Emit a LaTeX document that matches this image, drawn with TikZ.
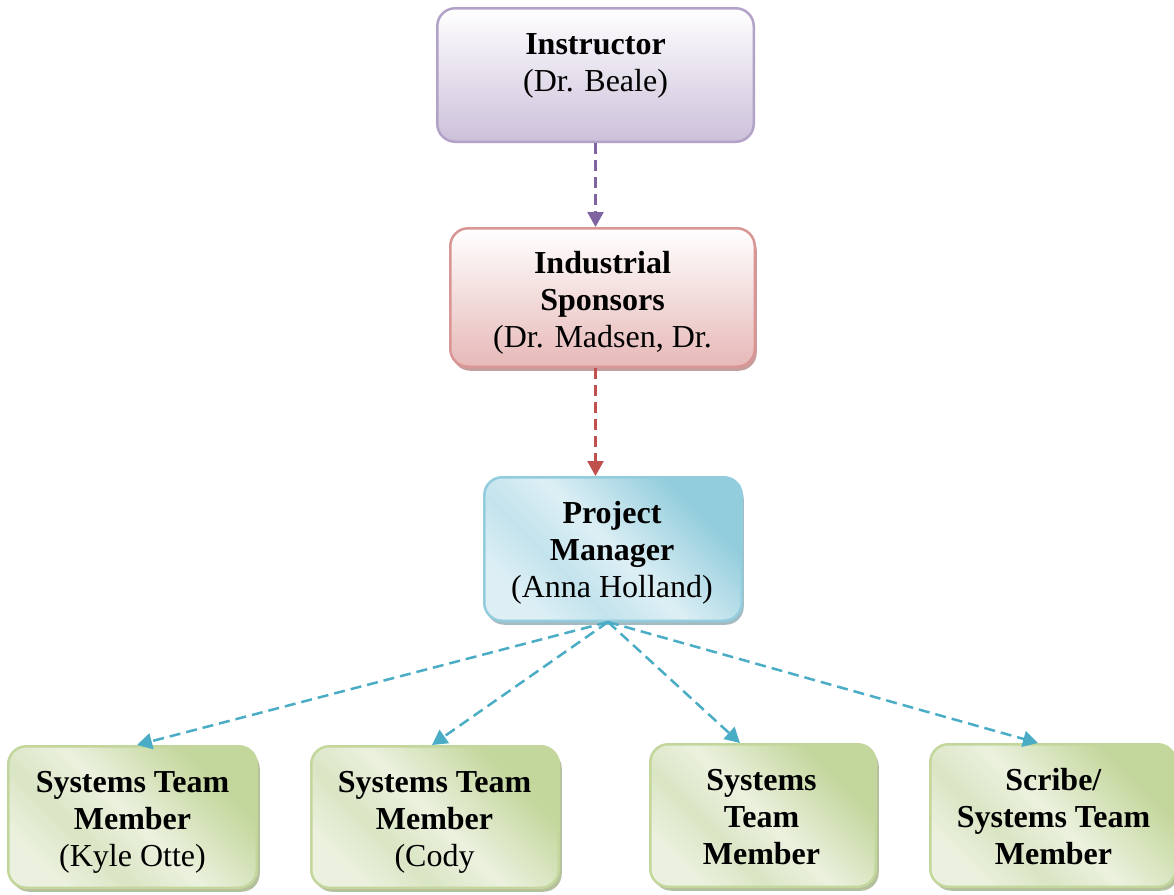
\documentclass[tikz,border=0pt]{standalone}
\usepackage{fontspec}
\setmainfont{Liberation Serif}
\usetikzlibrary{arrows.meta,shadows}
\definecolor{purpB}{HTML}{B3A2C7}
\definecolor{purpF}{HTML}{CCC0DA}
\definecolor{purpA}{HTML}{8064A2}
\definecolor{redB}{HTML}{D99694}
\definecolor{redF}{HTML}{E6B9B8}
\definecolor{redA}{HTML}{C0504D}
\definecolor{redS}{HTML}{B88584}
\definecolor{bluB}{HTML}{93CDDD}
\definecolor{bluL}{HTML}{DDEFF5}
\definecolor{bluD}{HTML}{92CDDC}
\definecolor{bluM}{HTML}{C3E3EC}
\definecolor{bluA}{HTML}{4BACC6}
\definecolor{bluS}{HTML}{8DAAB4}
\definecolor{grnB}{HTML}{C3D69B}
\definecolor{grnL}{HTML}{EBF1DE}
\definecolor{grnD}{HTML}{C3D69B}
\definecolor{grnM}{HTML}{DAE5C4}
\definecolor{grnS}{HTML}{A2B085}
\pgfdeclarehorizontalshading{greenfade}{100bp}{color(0bp)=(grnD); color(28bp)=(grnD); color(50bp)=(grnL); color(63bp)=(grnM); color(75bp)=(grnL); color(100bp)=(grnL)}
\pgfdeclarehorizontalshading{bluefade}{100bp}{color(0bp)=(bluD); color(28bp)=(bluD); color(50bp)=(bluL); color(63bp)=(bluM); color(75bp)=(bluL); color(100bp)=(bluL)}
\begin{document}
\begin{tikzpicture}[x=1pt,y=-1pt,
  box/.style={rectangle, rounded corners=18pt, line width=2.5pt, inner sep=0pt},
  purpbox/.style={box, draw=purpB, top color=white, bottom color=purpF},
  redbox/.style={box, draw=redB, top color=white, bottom color=redF,
    drop shadow={shadow xshift=2pt, shadow yshift=-4pt, fill=redS, opacity=0.8}},
  blubox/.style={box, draw=bluB, shade, shading=bluefade, shading angle=225,
    drop shadow={shadow xshift=2pt, shadow yshift=-4pt, fill=bluS, opacity=0.8}},
  grnbox/.style={box, draw=grnB, shade, shading=greenfade, shading angle=225,
    drop shadow={shadow xshift=3pt, shadow yshift=-4pt, fill=grnS, opacity=0.8}},
  lbl/.style={anchor=north, align=center, inner sep=0pt, font=\fontsize{32}{37}\selectfont},
  link/.style={line width=2.5pt, dash pattern=on 11pt off 6pt, -{Triangle[length=15pt,width=16pt]}}
]
\useasboundingbox (0,0) rectangle (1174,894);

% boxes
\node[purpbox, minimum width=316.5pt, minimum height=133.5pt] (inst) at (595.5,75) {};
\node[redbox, minimum width=304.5pt, minimum height=138.5pt] (spon) at (602.5,297.5) {};
\node[blubox, minimum width=257.5pt, minimum height=143.5pt] (pm) at (613,549) {};
\node[grnbox, minimum width=248.5pt, minimum height=141.5pt] (b1) at (132.5,817) {};
\node[grnbox, minimum width=247.5pt, minimum height=141.5pt] (b2) at (435,817) {};
\node[grnbox, minimum width=225.5pt, minimum height=142.5pt] (b3) at (763,815.5) {};
\node[grnbox, minimum width=245.5pt, minimum height=142.5pt] (b4) at (1053,815.5) {};

% texts
\node[lbl] (tinst) at (595.5,28) {\strut\textbf{Instructor}\\(Dr. Beale)};
\node[lbl] (tspon) at (602.5,247) {\strut\textbf{Industrial}\\\textbf{Sponsors}\\(Dr. Madsen, Dr.};
\node[lbl] (tpm) at (612,497) {\strut\textbf{Project}\\\textbf{Manager}\\(Anna Holland)};
\node[lbl] (tb1) at (132.5,766) {\strut\textbf{Systems Team}\\\textbf{Member}\\(Kyle Otte)};
\node[lbl] (tb2) at (434.5,766) {\strut\textbf{Systems Team}\\\textbf{Member}\\(Cody};
\node[lbl] (tb3) at (761.5,764) {\strut\textbf{Systems}\\\textbf{Team}\\\textbf{Member}};
\node[lbl] (tb4) at (1053.5,764.5) {\strut\textbf{Scribe/}\\\textbf{Systems Team}\\\textbf{Member}};

% connectors
\draw[link, purpA] (inst.south) -- (inst.south |- spon.north);
\draw[link, redA] (spon.south -| inst.south) -- (pm.north -| inst.south);
\draw[link, bluA] ([xshift=-5pt]pm.south) -- ([xshift=4.5pt]b1.north);
\draw[link, bluA] ([xshift=-5pt]pm.south) -- ([xshift=-3pt]b2.north);
\draw[link, bluA] ([xshift=-5pt]pm.south) -- ([xshift=-23pt]b3.north);
\draw[link, bluA] ([xshift=-5pt]pm.south) -- ([xshift=-15pt]b4.north);
\end{tikzpicture}
\end{document}
